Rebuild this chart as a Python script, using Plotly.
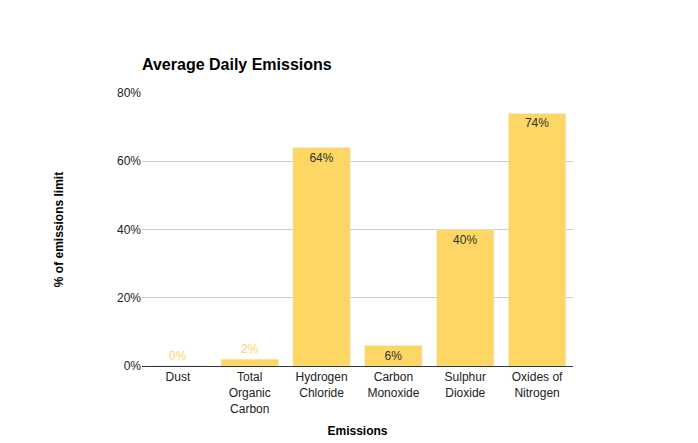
import plotly.graph_objects as go

categories = ["Dust", "Total<br>Organic<br>Carbon", "Hydrogen<br>Chloride", "Carbon<br>Monoxide", "Sulphur<br>Dioxide", "Oxides of<br>Nitrogen"]
values = [0.0, 0.02, 0.64, 0.06, 0.40, 0.74]
labels = ["0%", "2%", "64%", "6%", "40%", "74%"]

bar_color = "#fdd663"
positions = ["outside", "outside", "inside", "inside", "inside", "inside"]
text_colors = [bar_color, bar_color, "#333333", "#333333", "#333333", "#333333"]

fig = go.Figure(go.Bar(
    x=categories, y=values, text=labels, textposition=positions,
    insidetextanchor="end", marker_color=bar_color,
    textfont=dict(color=text_colors, size=12, family="Arial"),
    cliponaxis=False,
))
fig.update_layout(
    width=698, height=443, paper_bgcolor="white", plot_bgcolor="white",
    margin=dict(l=134, r=133, t=85, b=85),
    bargap=0.2,
    font=dict(family="Arial", size=12, color="#222222"),
    title=dict(text="<b>Average Daily Emissions</b>", x=134/698, xanchor="left",
               y=1-56/443, yanchor="middle", font=dict(size=16, color="#000000")),
    showlegend=False,
)
fig.update_yaxes(range=[0, 0.8], tickformat=".0%", dtick=0.2, gridcolor="#cccccc",
                 zeroline=False, ticks="", ticklen=0,
                 title=dict(text="<b>% of emissions limit</b>", font=dict(size=12, color="#000000"), standoff=50))
fig.update_xaxes(showline=True, linecolor="#333333", linewidth=1,
                 title=dict(text="<b>Emissions</b>", font=dict(size=12, color="#000000"), standoff=12))
fig.write_html("out.html")
